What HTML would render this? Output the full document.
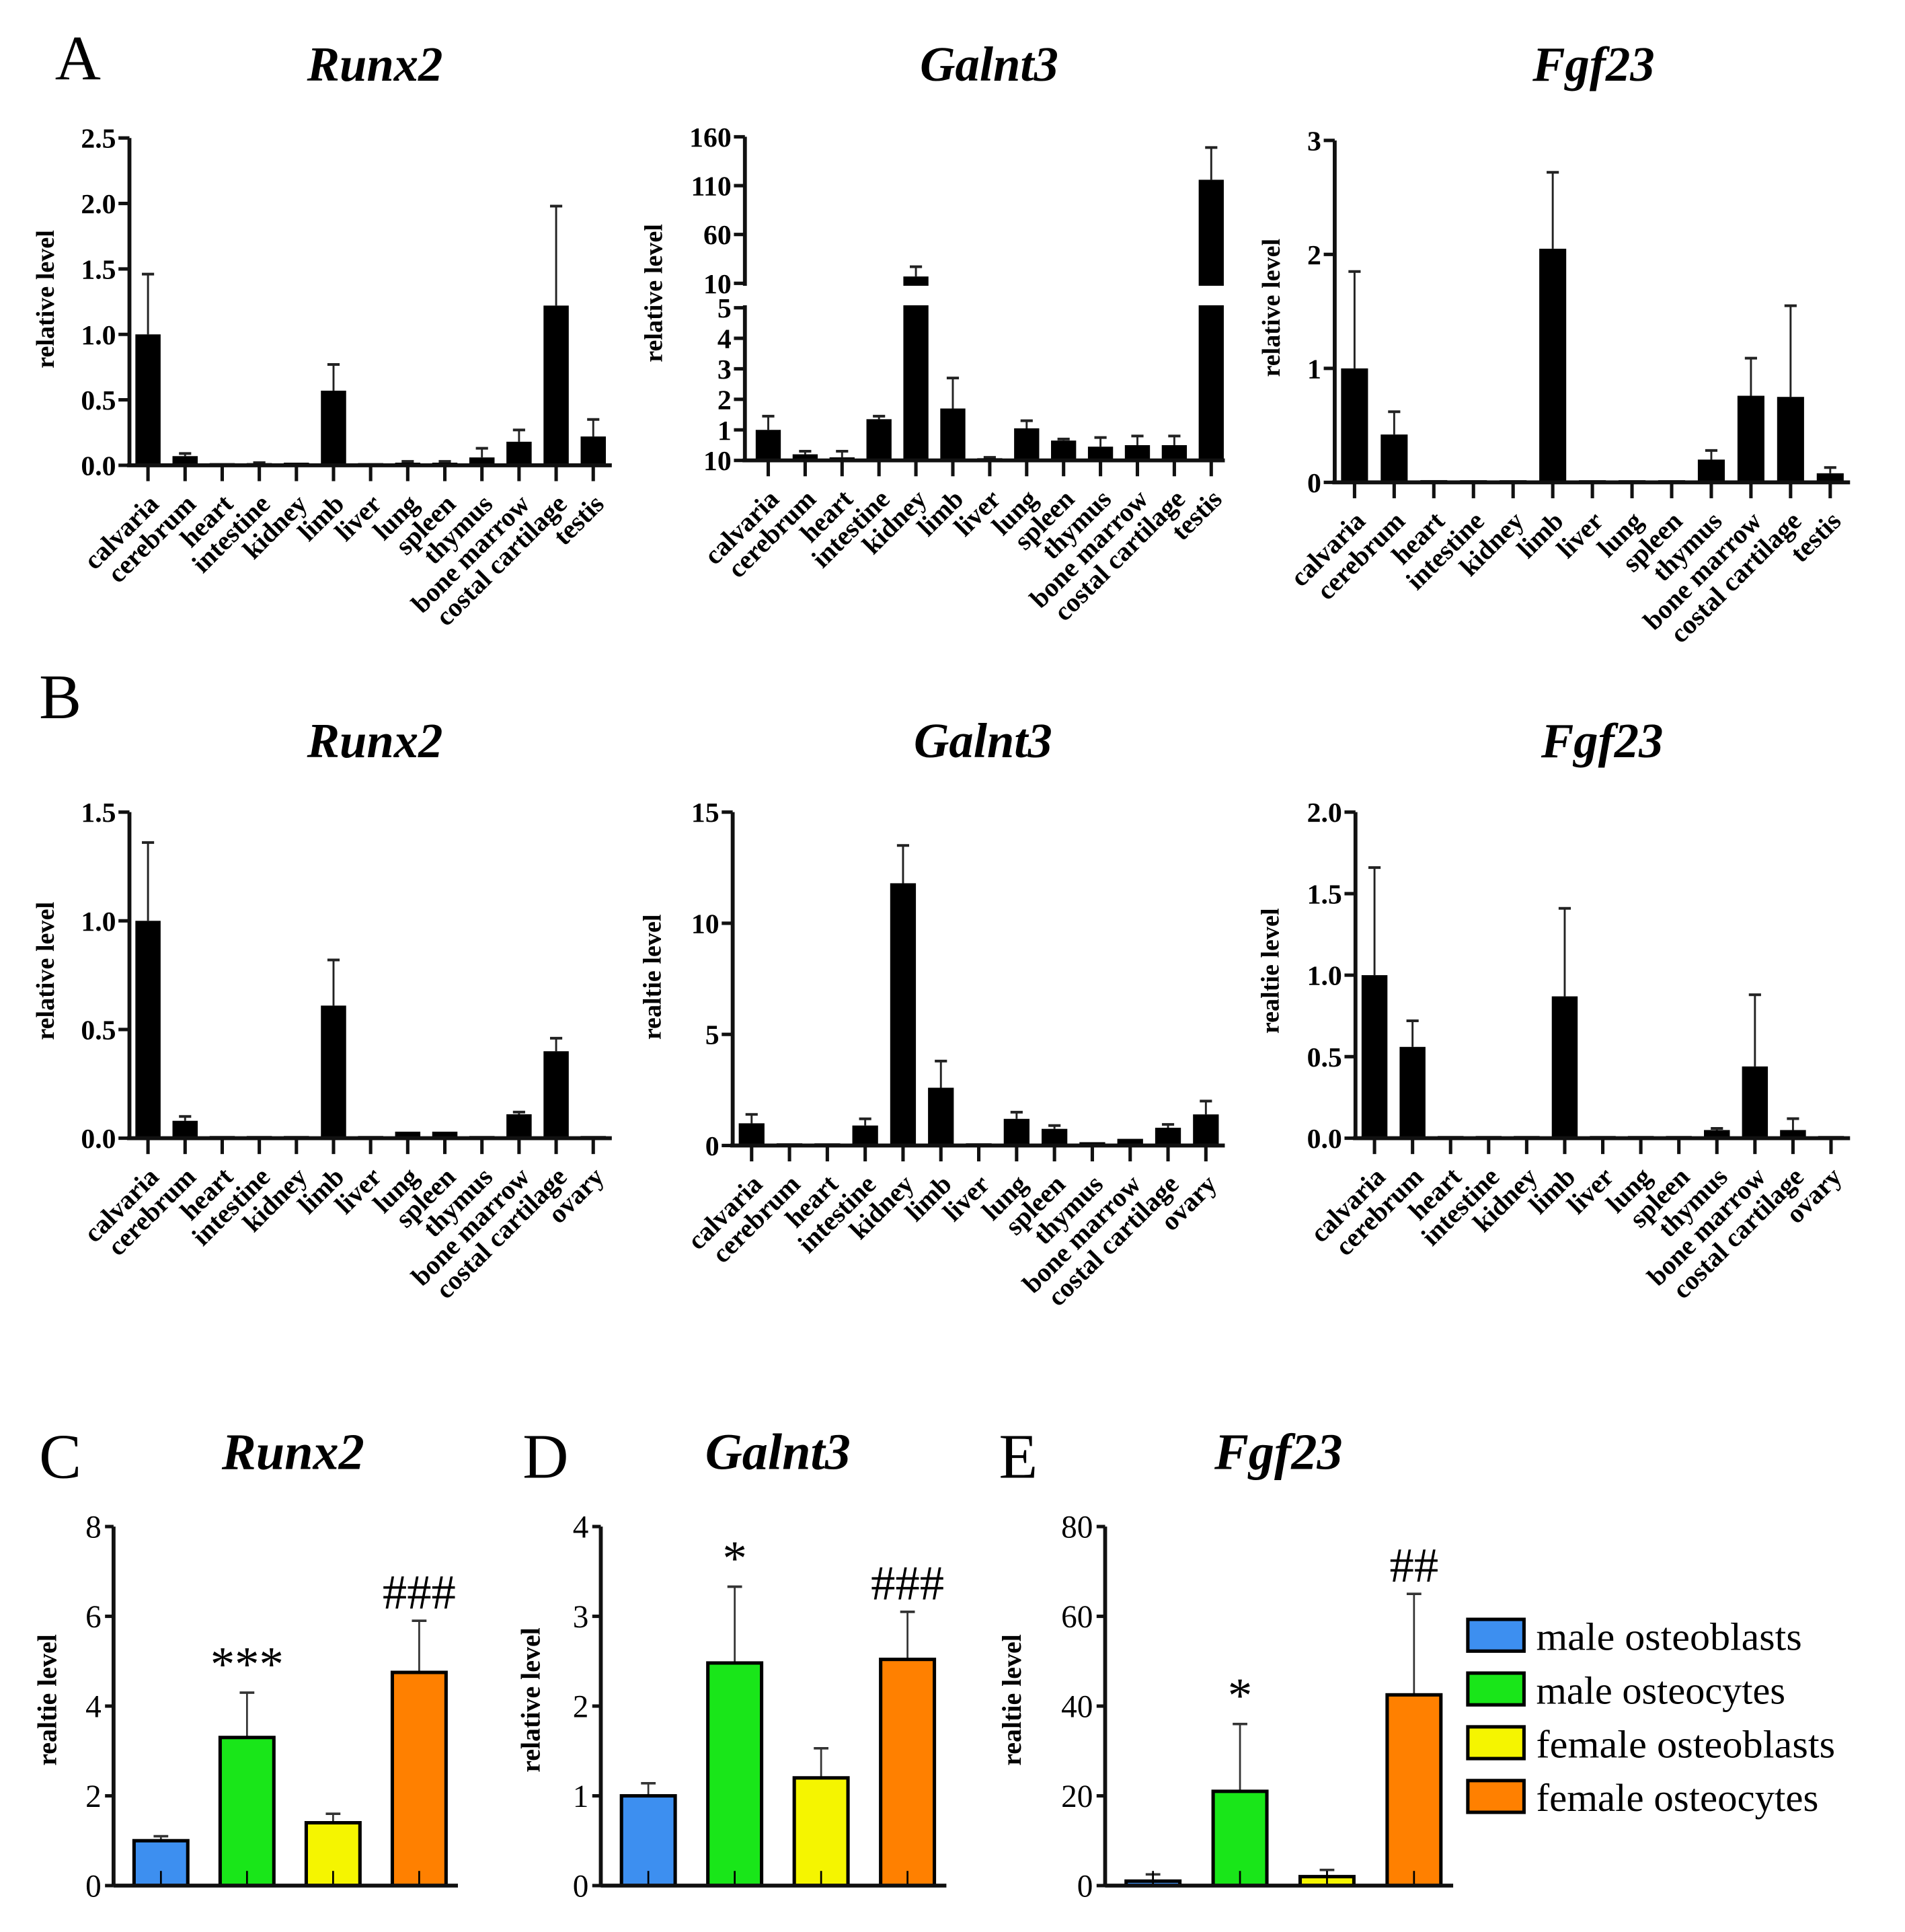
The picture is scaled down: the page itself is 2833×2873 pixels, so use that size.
<!DOCTYPE html>
<html><head><meta charset="utf-8"><style>
html,body{margin:0;padding:0;background:#fff;}
svg{display:block;}
text{font-family:"Liberation Serif",serif;fill:#000;}
</style></head><body>
<svg id="fig" width="2833" height="2873" viewBox="0 0 1560 1582" preserveAspectRatio="none" xmlns="http://www.w3.org/2000/svg"></svg>
<script>
// ---- data ----
const tissuesA = ["calvaria","cerebrum","heart","intestine","kidney","limb","liver","lung","spleen","thymus","bone marrow","costal cartilage","testis"];
const tissuesB = ["calvaria","cerebrum","heart","intestine","kidney","limb","liver","lung","spleen","thymus","bone marrow","costal cartilage","ovary"];
const aRunx2Val = [1.0,0.07,0.01,0.01,0.02,0.57,0,0.02,0.02,0.06,0.18,1.22,0.22];
const aRunx2Err = [0.46,0.02,0,0.01,0,0.2,0,0.01,0.01,0.07,0.09,0.76,0.13];
const aGalnt3Val = [1.0,0.2,0.1,1.35,17,1.7,0.05,1.05,0.65,0.45,0.5,0.5,116];
const aGalnt3Err = [0.45,0.1,0.2,0.1,10,1.0,0.05,0.25,0.05,0.3,0.3,0.3,33];
const aFgf23Val = [1.0,0.42,0.02,0,0.01,2.05,0.01,0,0.01,0.2,0.76,0.75,0.08];
const aFgf23Err = [0.85,0.2,0,0,0,0.67,0,0,0,0.08,0.33,0.8,0.05];
const bRunx2Val = [1.0,0.08,0,0,0.01,0.61,0.01,0.03,0.03,0.01,0.11,0.4,0.01];
const bRunx2Err = [0.36,0.02,0,0,0,0.21,0,0,0,0,0.01,0.06,0];
const bGalnt3Val = [1.0,0.1,0,0.9,11.8,2.6,0.1,1.2,0.75,0.15,0.3,0.8,1.4];
const bGalnt3Err = [0.4,0,0,0.3,1.7,1.2,0,0.3,0.15,0,0,0.15,0.6];
const bFgf23Val = [1.0,0.56,0.01,0,0,0.87,0.01,0.01,0,0.05,0.44,0.05,0.01];
const bFgf23Err = [0.66,0.16,0,0,0,0.54,0,0,0,0.01,0.44,0.07,0];
const groups = ["male osteoblasts","male osteocytes","female osteoblasts","female osteocytes"];
const groupColors = ["#3d8ff0","#19e619","#f5f500","#ff8000"];
const cRunx2Val = [1.0,3.3,1.4,4.75];
const cRunx2Err = [0.1,1.0,0.2,1.15];
const dGalnt3Val = [1.0,2.48,1.2,2.52];
const dGalnt3Err = [0.14,0.85,0.33,0.53];
const eFgf23Val = [1.0,21,2,42.5];
const eFgf23Err = [1.5,15,1.5,22.5];
const cMarks = ["","***","","###"];
const dMarks = ["","*","","###"];
const eMarks = ["","*","","##"];
const ticksRunx2A = [0,0.5,1.0,1.5,2.0,2.5];
const ticksFgf23A = [0,1,2,3];
const ticksGalnt3Low = [0,1,2,3,4,5];
const ticksGalnt3High = [10,60,110,160];
const ticksRunx2B = [0,0.5,1.0,1.5];
const ticksGalnt3B = [0,5,10,15];
const ticksFgf23B = [0,0.5,1.0,1.5,2.0];
const ticksC = [0,2,4,6,8];
const ticksD = [0,1,2,3,4];
const ticksE = [0,20,40,60,80];

// ---- helpers ----
const NS="http://www.w3.org/2000/svg";
const svg=document.getElementById('fig');
function el(tag,attrs,parent){const e=document.createElementNS(NS,tag);for(const k in attrs)e.setAttribute(k,attrs[k]);(parent||svg).appendChild(e);return e;}
function txt(s,attrs,parent){const t=el('text',attrs,parent);t.textContent=s;return t;}
function fmt(v,dec){return dec?v.toFixed(1):String(v);}

function tissueChart(o){
  const g=el('g',{});
  
  
  const n=o.cats.length;
  const step=(o.x1-o.x0)/n;
  const xc=i=>o.x0+step*(i+0.5)+o.off;
  const y=o.scale;
  for(let i=0;i<n;i++){
    const v=o.vals[i],e=o.errs[i],cx=xc(i),bw=step*0.68;
    if(e>0){
      const ln=el('line',{x1:cx,x2:cx,y1:y(v),y2:y(v+e),stroke:'#222','stroke-width':1.6},g);
      
      el('line',{x1:cx-5,x2:cx+5,y1:y(v+e),y2:y(v+e),stroke:'#222','stroke-width':2.2},g);
    }
    const top=y(v),h=Math.max(o.base-top,1.8);
    const r=el('rect',{x:cx-bw/2,y:o.base-h,width:bw,height:h,fill:'#000'},g);
    
    
    el('line',{x1:cx,x2:cx,y1:o.base,y2:o.base+13,stroke:'#111','stroke-width':2.8},g);
    const t=txt(o.cats[i],{x:cx+10,y:o.base+33,'text-anchor':'end','font-size':22,'font-weight':'bold',transform:`rotate(-45 ${cx+10} ${o.base+33})`},g);
    
  }
  if(o.brk){el('rect',{x:o.x0+1,y:o.brk[0],width:o.x1-o.x0+5,height:o.brk[1]-o.brk[0],fill:'#fff'},g);}
  el('line',{x1:o.x0-2,x2:o.x1,y1:o.base,y2:o.base,stroke:'#111','stroke-width':3.2},g);
  if(o.brk){
    el('line',{x1:o.x0,x2:o.x0,y1:o.base,y2:o.brk[1],stroke:'#111','stroke-width':3.2},g);
    el('line',{x1:o.x0,x2:o.x0,y1:o.brk[0],y2:o.ytop,stroke:'#111','stroke-width':3.2},g);
  } else el('line',{x1:o.x0,x2:o.x0,y1:o.base,y2:o.ytop,stroke:'#111','stroke-width':3.2},g);
  o.ticks.forEach(tv=>{
    const ty=y(tv);
    el('line',{x1:o.x0-9,x2:o.x0,y1:ty,y2:ty,stroke:'#111','stroke-width':2.8},g);
    const t=txt(o.tickLabel?o.tickLabel(tv):fmt(tv,o.dec),{x:o.x0-11,y:ty+8,'text-anchor':'end','font-size':23,'font-weight':'bold'},g);
    
  });
  const yt=txt(o.ytitle,{x:o.ytx,y:o.yty,'text-anchor':'middle','font-size':21,'font-weight':'bold',transform:`rotate(-90 ${o.ytx} ${o.yty})`},g);
  
  const tt=txt(o.title,{x:o.tx,y:o.ty,'text-anchor':'middle','font-size':40,'font-weight':'bold','font-style':'italic'},g);
  
}
function lin(v0,y0,v1,y1){return v=>y0+(v-v0)*(y1-y0)/(v1-v0);}

[["A",45,65],["B",32,588],["C",32,1210],["D",428,1210],["E",818,1210]].forEach(p=>{
  const t=txt(p[0],{x:p[1],y:p[2],'font-size':52});
  
});

tissueChart({name:'chart-a-runx2',cats:tissuesA,vals:aRunx2Val,errs:aRunx2Err,x0:106,x1:501,off:0,base:381,ytop:113,scale:lin(0,381,2.5,113),ticks:ticksRunx2A,dec:1,ytitle:'relative level',ytx:44,yty:245,title:'Runx2',tx:307,ty:66});
const galScale=v=> v<=5 ? 377+(252-377)*v/5 : 232+(v-10)*(112-232)/150;
tissueChart({name:'chart-a-galnt3',cats:tissuesA,vals:aGalnt3Val,errs:aGalnt3Err,x0:610,x1:1003,off:4,base:377,ytop:112,scale:galScale,ticks:ticksGalnt3Low.concat(ticksGalnt3High),tickLabel:v=>v===0?'10':String(v),brk:[234,250],ytitle:'relative level',ytx:542,yty:240,title:'Galnt3',tx:810,ty:66});
tissueChart({name:'chart-a-fgf23',cats:tissuesA,vals:aFgf23Val,errs:aFgf23Err,x0:1093,x1:1515,off:0,base:395,ytop:115,scale:lin(0,395,3,115),ticks:ticksFgf23A,dec:0,ytitle:'relative level',ytx:1048,yty:252,title:'Fgf23',tx:1305,ty:66});
tissueChart({name:'chart-b-runx2',cats:tissuesB,vals:bRunx2Val,errs:bRunx2Err,x0:106,x1:501,off:0,base:932,ytop:665,scale:lin(0,932,1.5,665),ticks:ticksRunx2B,dec:1,ytitle:'relative level',ytx:44,yty:795,title:'Runx2',tx:307,ty:620});
tissueChart({name:'chart-b-galnt3',cats:tissuesB,vals:bGalnt3Val,errs:bGalnt3Err,x0:600,x1:1003,off:0,base:938,ytop:665,scale:lin(0,938,15,665),ticks:ticksGalnt3B,dec:0,ytitle:'realtie level',ytx:541,yty:800,title:'Galnt3',tx:805,ty:620});
tissueChart({name:'chart-b-fgf23',cats:tissuesB,vals:bFgf23Val,errs:bFgf23Err,x0:1110,x1:1515,off:0,base:932,ytop:665,scale:lin(0,932,2,665),ticks:ticksFgf23B,dec:1,ytitle:'realtie level',ytx:1047,yty:795,title:'Fgf23',tx:1312,ty:620});

function cellChart(o){
  const g=el('g',{});
  
  
  const y=lin(0,o.base,o.max,o.ytop);
  const step=(o.x1-o.x0)/4;
  for(let i=0;i<4;i++){
    const cx=o.x0+step*(i+0.55),v=o.vals[i],e=o.errs[i],bw=44;
    el('line',{x1:cx,x2:cx,y1:y(v),y2:y(v+e),stroke:'#333','stroke-width':1.5},g);
    el('line',{x1:cx-6,x2:cx+6,y1:y(v+e),y2:y(v+e),stroke:'#333','stroke-width':2},g);
    const r=el('rect',{x:cx-bw/2,y:y(v),width:bw,height:o.base-y(v),fill:groupColors[i],stroke:'#000','stroke-width':2.8},g);
    
    
    el('line',{x1:cx,x2:cx,y1:o.base,y2:o.base-12,stroke:'#000','stroke-width':1.5},g);
    if(o.marks[i]){
      const m=txt(o.marks[i],{x:cx,y:y(v+e)-10,'text-anchor':'middle','font-size':40},g);
      
    }
  }
  el('line',{x1:o.x0,x2:o.x1,y1:o.base,y2:o.base,stroke:'#111','stroke-width':3.2},g);
  el('line',{x1:o.x0,x2:o.x0,y1:o.base,y2:o.ytop,stroke:'#111','stroke-width':3.2},g);
  o.ticks.forEach(tv=>{
    const ty=y(tv);
    el('line',{x1:o.x0-7,x2:o.x0,y1:ty,y2:ty,stroke:'#111','stroke-width':2.8},g);
    const t=txt(String(tv),{x:o.x0-10,y:ty+9,'text-anchor':'end','font-size':26},g);
    
  });
  const yt=txt(o.ytitle,{x:o.ytx,y:o.yty,'text-anchor':'middle','font-size':22,'font-weight':'bold',transform:`rotate(-90 ${o.ytx} ${o.yty})`},g);
  
  const tt=txt(o.title,{x:o.tx,y:o.ty,'text-anchor':'middle','font-size':42,'font-weight':'bold','font-style':'italic'},g);
  
}
cellChart({name:'chart-c-runx2',vals:cRunx2Val,errs:cRunx2Err,marks:cMarks,x0:93,x1:375,base:1544,ytop:1250,max:8,ticks:ticksC,ytitle:'realtie level',ytx:46,yty:1392,title:'Runx2',tx:240,ty:1203});
cellChart({name:'chart-d-galnt3',vals:dGalnt3Val,errs:dGalnt3Err,marks:dMarks,x0:492,x1:775,base:1544,ytop:1250,max:4,ticks:ticksD,ytitle:'relative level',ytx:442,yty:1392,title:'Galnt3',tx:637,ty:1203});
cellChart({name:'chart-e-fgf23',vals:eFgf23Val,errs:eFgf23Err,marks:eMarks,x0:905,x1:1190,base:1544,ytop:1250,max:80,ticks:ticksE,ytitle:'realtie level',ytx:836,yty:1392,title:'Fgf23',tx:1047,ty:1203});

const lg=el('g',{});


groups.forEach((name,i)=>{
  const yy=1326+i*44;
  const r=el('rect',{x:1202,y:yy,width:46,height:26,fill:groupColors[i],stroke:'#000','stroke-width':2.8},lg);
  
  const t=txt(name,{x:1258,y:yy+25,'font-size':32,textLength:name.length*13.6,lengthAdjust:'spacingAndGlyphs'},lg);
  
});
</script>
</body></html>
